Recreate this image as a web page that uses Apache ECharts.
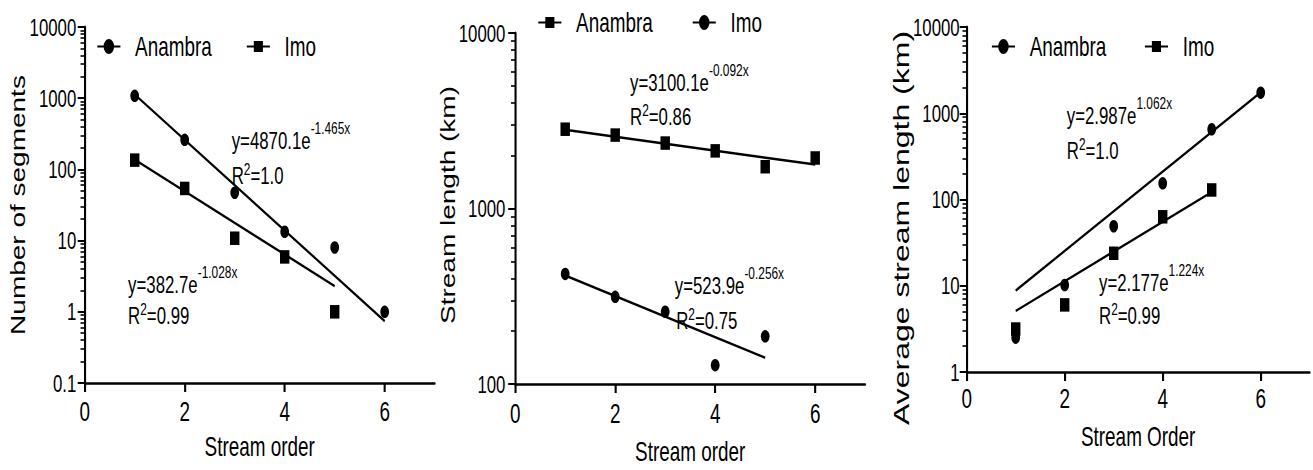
<!DOCTYPE html>
<html>
<head>
<meta charset="utf-8">
<script src="https://cdn.jsdelivr.net/npm/echarts@6/dist/echarts.min.js"></script>
<style>
html, body { margin: 0; padding: 0; background: #fff; overflow: hidden; }
/* the original figure is squeezed horizontally, so draw wide and scale x */
#main { width: 1876px; height: 470px; transform: scaleX(0.7); transform-origin: 0 0; }
</style>
</head>
<body>
<div id="main"></div>
<script>
var xOrder = [1, 2, 3, 4, 5, 6];
var xTicks = [0, 2, 4, 6];
var minorSteps = [2, 3, 4, 5, 6, 7, 8, 9];

// number of segments
var segAnambra = [1080, 260, 47, 13.3, 8.0, 1.0];
var segImo = [135, 54, 10.8, 5.9, 1.0];
var segAnambraFit = [[1, 1125], [6, 0.74]];
var segImoFit = [[1, 137], [5, 2.3]];
var segDecades = [0.1, 1, 10, 100, 1000];

// stream length
var lenAnambra = [2830, 2620, 2360, 2130, 1730, 1940];
var lenImo = [424, 314, 258, 128, 187];
var lenAnambraFit = [[1, 2810], [6, 1780]];
var lenImoFit = [[1, 415], [5, 141]];
var lenDecades = [100, 1000];

// average stream length
var avgAnambra = [2.5, 10.2, 49, 154, 652, 1733];
var avgImo = [3.15, 6.0, 23.8, 63, 129];
var avgAnambraFit = [[1, 8.8], [6, 1750]];
var avgImoFit = [[1, 5.1], [5, 122]];
var avgDecades = [1, 10, 100, 1000];

var FONT = 'Liberation Sans, Arial, sans-serif';
var circleIcon = 'path://M0,6.5H33V8.5H0Z M9,7.5A7.5,7.5 0 1,1 24,7.5A7.5,7.5 0 1,1 9,7.5Z';
var squareIcon = 'path://M0,6.5H33V8.5H0Z M10,2H23V13H10Z M0,0Z M0,15Z';

var myChart = echarts.init(document.getElementById('main'), null, { renderer: 'svg' });

function pairs(ys) {
    return ys.map(function (y, i) { return [xOrder[i], y]; });
}

function minorValues(decades) {
    var out = [];
    decades.forEach(function (d) {
        minorSteps.forEach(function (m) { out.push(+(m * d).toPrecision(3)); });
    });
    return out;
}

function xAx(grid, margin, gap, name) {
    return {
        type: 'value', gridIndex: grid, min: 0, max: 7, interval: 1,
        splitLine: { show: false },
        axisLine: { onZero: false, lineStyle: { color: '#000', width: 2.5 } },
        axisTick: { length: 9, lineStyle: { color: '#000', width: 3 }, customValues: xTicks },
        axisLabel: { customValues: xTicks, margin: margin, fontSize: 27, color: '#000', fontFamily: FONT },
        name: name, nameLocation: 'middle', nameGap: gap,
        nameTextStyle: { fontSize: 27, color: '#000', fontFamily: FONT }
    };
}

function yAx(grid, min, max, margin) {
    return {
        type: 'log', logBase: 10, gridIndex: grid, min: min, max: max, position: 'left',
        splitLine: { show: false },
        axisLine: { show: true, onZero: false, lineStyle: { color: '#000', width: 3 } },
        axisTick: { show: true, length: 10, lineStyle: { color: '#000', width: 2 } },
        axisLabel: {
            margin: margin, fontSize: 24, color: '#000', fontFamily: FONT,
            formatter: function (v) { return String(+(+v).toPrecision(6)); }
        }
    };
}

// a second, label-less log axis on the same grid that only draws the 2..9 ticks
function yMinor(grid, min, max, decades) {
    return {
        type: 'log', logBase: 10, gridIndex: grid, min: min, max: max,
        position: 'left', offset: 0,
        splitLine: { show: false },
        axisLine: { show: false, onZero: false },
        axisLabel: { show: false },
        axisTick: { show: true, length: 6, lineStyle: { color: '#000', width: 1.6 }, customValues: minorValues(decades) }
    };
}

function dots(name, grid, symbol, size, data) {
    return {
        name: name, type: 'scatter', xAxisIndex: grid, yAxisIndex: grid,
        symbol: symbol, symbolSize: size, data: pairs(data),
        itemStyle: { color: '#000', opacity: 1 }, z: 4
    };
}

function fit(grid, data) {
    return {
        name: 'fit' + grid, type: 'line', xAxisIndex: grid, yAxisIndex: grid,
        data: data, symbol: 'none', silent: true,
        lineStyle: { color: '#000', width: 2.5 }, z: 3
    };
}

function legendAt(left, top, gap, first, second) {
    return {
        left: left, top: top, padding: 0, itemGap: gap,
        itemWidth: 33, itemHeight: 15,
        textStyle: { fontSize: 27, color: '#000', fontFamily: FONT, padding: [0, 0, 0, 16] },
        data: [{ name: 'Anambra', icon: first }, { name: 'Imo', icon: second }]
    };
}

function eq(x, y, base, expo) {
    return {
        type: 'text', x: x, y: y, silent: true,
        style: {
            text: '{m|' + base + '}{s|' + expo + '}',
            verticalAlign: 'middle', fill: '#000',
            rich: {
                m: { fontSize: 24, lineHeight: 41, fontFamily: FONT, fill: '#000' },
                s: { fontSize: 17, lineHeight: 17, verticalAlign: 'top', fontFamily: FONT, fill: '#000' }
            }
        }
    };
}

function rsq(x, y, val) {
    return {
        type: 'text', x: x, y: y, silent: true,
        style: {
            text: '{m|R}{s|2}{m|=' + val + '}',
            verticalAlign: 'middle', fill: '#000',
            rich: {
                m: { fontSize: 24, lineHeight: 28, fontFamily: FONT, fill: '#000' },
                s: { fontSize: 17, lineHeight: 17, verticalAlign: 'top', fontFamily: FONT, fill: '#000' }
            }
        }
    };
}

function yTitle(x, y, size, text) {
    return {
        type: 'text', x: x, y: y, rotation: Math.PI / 2, silent: true,
        style: { text: text, fontSize: size, fontFamily: FONT, fill: '#000', align: 'center', verticalAlign: 'middle' }
    };
}

option = {
    backgroundColor: '#fff',
    animation: false,
    grid: [
        { left: 121, top: 27, width: 500, height: 356 },
        { left: 736, top: 33, width: 500, height: 354 },
        { left: 1381, top: 27, width: 490, height: 345 }
    ],
    xAxis: [
        xAx(0, 15, 50, 'Stream order'),
        xAx(1, 16, 54, 'Stream order'),
        xAx(2, 13, 51, 'Stream Order')
    ],
    yAxis: [
        yAx(0, 0.1, 10000, 12),
        yAx(1, 100, 10000, 14),
        yAx(2, 1, 10000, 10),
        yMinor(0, 0.1, 10000, segDecades),
        yMinor(1, 100, 10000, lenDecades),
        yMinor(2, 1, 10000, avgDecades)
    ],
    legend: [
        legendAt(139, 33, 50, circleIcon, squareIcon),
        legendAt(769, 9, 57, squareIcon, circleIcon),
        legendAt(1417, 33, 55, circleIcon, squareIcon)
    ],
    series: [
        fit(0, segAnambraFit),
        fit(0, segImoFit),
        dots('Anambra', 0, 'circle', 12.5, segAnambra),
        dots('Imo', 0, 'rect', 13.5, segImo),

        fit(1, lenAnambraFit),
        fit(1, lenImoFit),
        dots('Anambra', 1, 'rect', 13.5, lenAnambra),
        dots('Imo', 1, 'circle', 12.5, lenImo),

        fit(2, avgAnambraFit),
        fit(2, avgImoFit),
        dots('Anambra', 2, 'circle', 12.5, avgAnambra),
        dots('Imo', 2, 'rect', 13.5, avgImo)
    ],
    graphic: [
        yTitle(26, 205, 28, 'Number of segments'),
        yTitle(640, 205, 28, 'Stream length (km)'),
        yTitle(1287, 228, 32, 'Average stream length (km)'),

        eq(331, 140, 'y=4870.1e', '-1.465x'),
        rsq(331, 175, '1.0'),
        eq(183, 284, 'y=382.7e', '-1.028x'),
        rsq(183, 315, '0.99'),

        eq(900, 82, 'y=3100.1e', '-0.092x'),
        rsq(900, 116, '0.86'),
        eq(964, 285, 'y=523.9e', '-0.256x'),
        rsq(966, 320, '0.75'),

        eq(1524, 115, 'y=2.987e', '1.062x'),
        rsq(1524, 150, '1.0'),
        eq(1570, 282, 'y=2.177e', '1.224x'),
        rsq(1570, 315, '0.99')
    ]
};

myChart.setOption(option);
</script>
</body>
</html>
